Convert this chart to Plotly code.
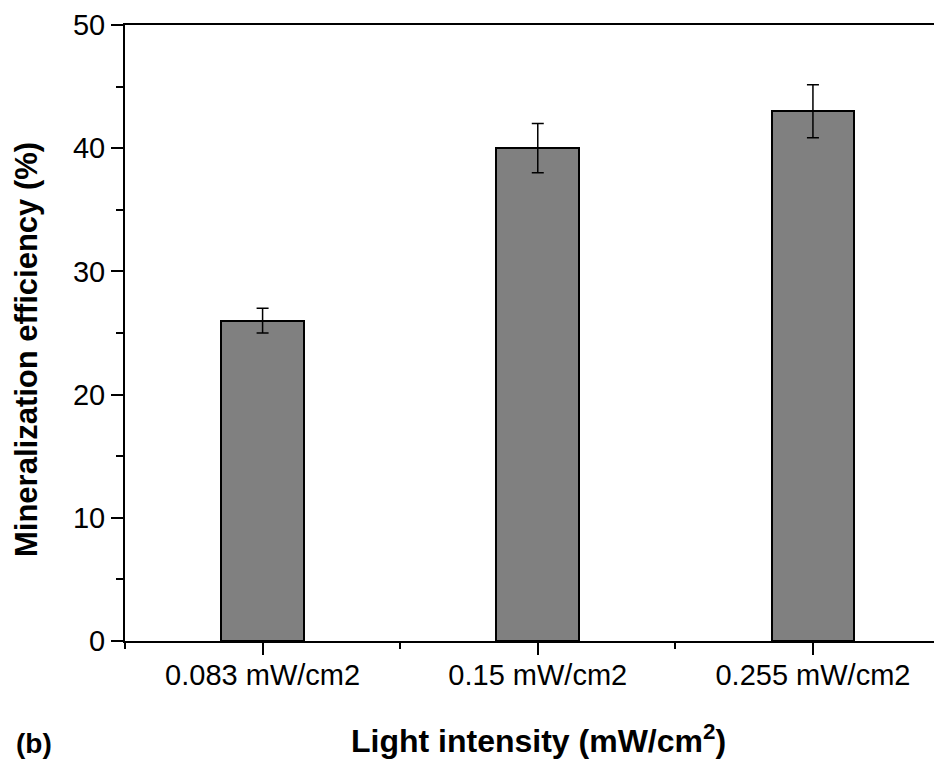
import plotly.graph_objects as go

categories = ["0.083 mW/cm2", "0.15 mW/cm2", "0.255 mW/cm2"]
efficiency = [26.0, 40.0, 43.0]
errors = [1.0, 2.0, 2.15]
positions = [0, 1, 2]

FONT = "Arial, 'Liberation Sans', sans-serif"

# plot area geometry (figure pixels)
L, T, W, H = 117, 17, 817, 616
FIG_W, FIG_H = 942, 767


def px(xp):
    return (xp - L) / W


def py(yp):
    return (T + H - yp) / H


fig = go.Figure()
fig.add_trace(go.Bar(
    x=positions, y=efficiency, width=0.30,
    marker=dict(color="#808080", line=dict(color="#000000", width=2)),
    error_y=dict(type="data", array=errors, visible=True, color="#000000",
                 thickness=1.5, width=6),
    showlegend=False,
))

fig.update_layout(
    width=FIG_W, height=FIG_H,
    margin=dict(l=L, r=FIG_W - L - W, t=T, b=FIG_H - T - H),
    paper_bgcolor="white", plot_bgcolor="white",
    font=dict(family=FONT, color="black", size=29),
    bargap=0,
    xaxis=dict(
        range=[-0.5, 2.469], automargin=False,
        tickmode="array", tickvals=positions, ticktext=categories,
        ticks="outside", ticklen=12, tickwidth=2, tickcolor="black",
        minor=dict(tickmode="array", tickvals=[-0.5, 0.5, 1.5], ticks="outside",
                   ticklen=6, tickwidth=2, tickcolor="black"),
        showline=True, linecolor="black", linewidth=2, mirror=True,
        showgrid=False, zeroline=False,
        tickfont=dict(size=29, family=FONT),
        ticklabelstandoff=-5,
    ),
    yaxis=dict(
        range=[0, 50], tickmode="linear", tick0=0, dtick=10, automargin=False,
        ticks="outside", ticklen=12, tickwidth=2, tickcolor="black",
        minor=dict(dtick=5, ticks="outside", ticklen=7, tickwidth=2, tickcolor="black"),
        showline=True, linecolor="black", linewidth=2, mirror=False,
        showgrid=False, zeroline=False,
        tickfont=dict(size=29, family=FONT),
    ),
    annotations=[
        dict(text="<b>Mineralization efficiency (%)</b>", textangle=-90,
             xref="paper", yref="paper", x=px(18), y=py(342),
             xanchor="center", yanchor="middle", showarrow=False,
             font=dict(size=31, family=FONT, color="black")),
        dict(text="<b>Light intensity (mW/cm<sup>2</sup>)</b>",
             xref="paper", yref="paper", x=px(530), y=py(753),
             xanchor="center", yanchor="bottom", showarrow=False,
             font=dict(size=32, family=FONT, color="black")),
        dict(text="<b>(b)</b>", xref="paper", yref="paper",
             x=px(6), y=py(753), xanchor="left", yanchor="bottom",
             showarrow=False, font=dict(size=28, family=FONT, color="black")),
    ],
)

fig.write_html("out.html")
